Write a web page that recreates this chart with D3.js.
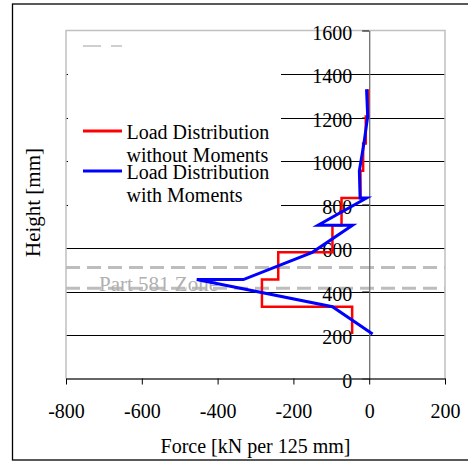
<!DOCTYPE html>
<html>
<head>
<meta charset="utf-8">
<script src="https://cdn.jsdelivr.net/npm/d3@7"></script>
<style>
  html, body { margin: 0; padding: 0; background: #fff; }
  svg { display: block; }
  text { font-family: "Liberation Serif", "Times New Roman", serif; }
</style>
</head>
<body>
<svg id="chart" width="468" height="463"></svg>
<script>
// ---- data ----
const xTicks = [-800, -600, -400, -200, 0, 200];
const yTicks = [0, 200, 400, 600, 800, 1000, 1200, 1400, 1600];
const gridValues = [200, 400, 600, 800, 1000, 1200, 1400];
const zoneBounds = [415, 510];
const zoneLabel = "Part 581 Zone";

// Load distribution without moments (step, one value per 125 mm segment)
const stepHeights = [205, 330, 455, 580, 705, 830, 955, 1080, 1205, 1330];
const stepValues = [-45, -283, -240, -97, -73, -23, -16, -9, -3];

// Load distribution with moments
const momHeights = [205, 330, 455, 455, 580, 705, 705, 830, 830, 955, 1080, 1205, 1330];
const momValues  = [9, -97, -455, -332, -150, -44, -135, -7, -24, -26, -14, -4, -7];

const legendLabels = [["Load Distribution", "without Moments"], ["Load Distribution", "with Moments"]];
const seriesColors = ["#ff0000", "#0000ff"];

// ---- drawing ----
const svg = d3.select("#chart");
const x = d3.scaleLinear().domain([-800, 200]).range([66, 445]);
const y = d3.scaleLinear().domain([0, 1600]).range([378.5, 30.5]);
const fmt = d => String(d);

// outer frame
svg.append("rect").attr("x", 12.5).attr("y", 4).attr("width", 470).attr("height", 456)
  .attr("fill", "none").attr("stroke", "#000").attr("stroke-width", 1.3);

// gridlines
svg.append("g").selectAll("line").data(gridValues).join("line")
  .attr("x1", x(-800)).attr("x2", x(200))
  .attr("y1", d => Math.round(y(d)) + 0.5).attr("y2", d => Math.round(y(d)) + 0.5)
  .attr("stroke", "#000").attr("stroke-width", 1);

// plot border (gray)
svg.append("path")
  .attr("d", `M${x(-800)},${y(0)}V${y(1600)}H${x(200)}V${y(0)}`)
  .attr("fill", "none").attr("stroke", "#c0c0c0").attr("stroke-width", 1.5);

// zone dashed lines
svg.append("g").selectAll("line").data(zoneBounds).join("line")
  .attr("x1", x(-800)).attr("x2", x(200))
  .attr("y1", d => y(d)).attr("y2", d => y(d))
  .attr("stroke", "#bdbdbd").attr("stroke-width", 3)
  .attr("stroke-dasharray", "14,7");

// legend box (white, covers gridlines)
const lg = svg.append("g");
lg.append("rect").attr("x", 68).attr("y", 32).attr("width", 213).attr("height", 200).attr("fill", "#fff");
lg.append("line").attr("x1", 83).attr("x2", 122).attr("y1", 46).attr("y2", 46)
  .attr("stroke", "#c0c0c0").attr("stroke-width", 1.5).attr("stroke-dasharray", "18,10");
const legY = [131, 171];
const legText = [[138.5, 161.5], [178.5, 201.5]];
legendLabels.forEach((lines, i) => {
  lg.append("line").attr("x1", 83).attr("x2", 122).attr("y1", legY[i]).attr("y2", legY[i])
    .attr("stroke", seriesColors[i]).attr("stroke-width", 3);
  lines.forEach((t, j) => {
    lg.append("text").attr("x", 126.5).attr("y", legText[i][j])
      .attr("font-size", 20).attr("fill", "#000").text(t);
  });
});

// y axis at x=0
const yAxis = svg.append("g").attr("transform", `translate(${x(0)},0)`)
  .call(d3.axisLeft(y).tickValues(yTicks).tickFormat(fmt).tickSize(7).tickSizeOuter(0).tickPadding(10));
yAxis.select(".domain").attr("stroke", "#707070").attr("stroke-width", 1.3);
yAxis.selectAll(".tick line").attr("stroke", "#000");
yAxis.selectAll("text").attr("font-size", 20).attr("font-family", "Liberation Serif").attr("fill", "#000").attr("dy", "0.43em");

// x axis
const xAxis = svg.append("g").attr("transform", `translate(0,${y(0)})`)
  .call(d3.axisBottom(x).tickValues(xTicks).tickFormat(fmt).tickSize(6).tickSizeOuter(0).tickPadding(19));
xAxis.select(".domain").attr("stroke", "#333").attr("stroke-width", 1.3);
xAxis.selectAll(".tick line").attr("stroke", "#000");
xAxis.selectAll("text").attr("font-size", 20).attr("font-family", "Liberation Serif").attr("fill", "#000");

// zone label
svg.append("text").attr("x", 99).attr("y", 290.5).attr("font-size", 21)
  .attr("fill", "#b0b0b0").text(zoneLabel);

// series
const stepPts = stepValues.map((v, i) => [v, stepHeights[i]]);
stepPts.push([stepValues[stepValues.length - 1], stepHeights[stepHeights.length - 1]]);
svg.append("path").datum(stepPts)
  .attr("d", d3.line().x(d => x(d[0])).y(d => y(d[1])).curve(d3.curveStepBefore))
  .attr("fill", "none").attr("stroke", seriesColors[0]).attr("stroke-width", 2.5);

const momPts = momValues.map((v, i) => [v, momHeights[i]]);
svg.append("path").datum(momPts)
  .attr("d", d3.line().x(d => x(d[0])).y(d => y(d[1])))
  .attr("fill", "none").attr("stroke", seriesColors[1]).attr("stroke-width", 3);

// axis titles
svg.append("text").attr("x", (x(-800) + x(200)) / 2).attr("y", 453)
  .attr("text-anchor", "middle").attr("font-size", 20).text("Force [kN per 125 mm]");
svg.append("text").attr("transform", "translate(40,202.5) rotate(-90)")
  .attr("text-anchor", "middle").attr("font-size", 21).text("Height [mm]");
</script>
</body>
</html>
